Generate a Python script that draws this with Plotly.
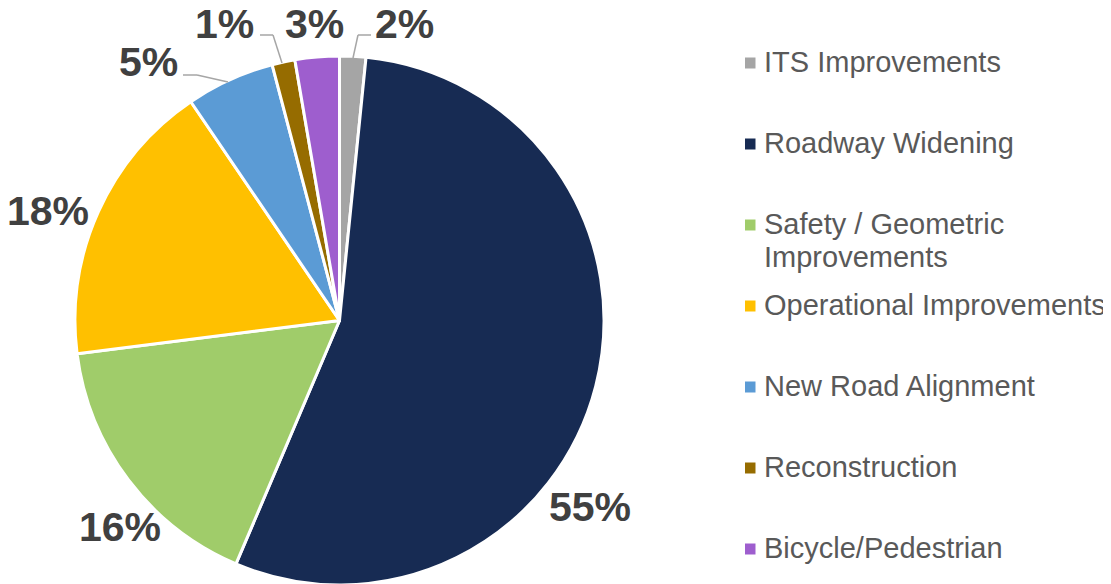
import plotly.graph_objects as go

# ---- data ----
categories = ["ITS Improvements", "Roadway Widening", "Safety / Geometric Improvements",
              "Operational Improvements", "New Road Alignment", "Reconstruction",
              "Bicycle/Pedestrian"]
values = [1.6, 54.8, 16.6, 17.5, 5.4, 1.4, 2.7]
pct_labels = ["2%", "55%", "16%", "18%", "5%", "1%", "3%"]
legend_lines = [["ITS Improvements"], ["Roadway Widening"],
                ["Safety / Geometric", "Improvements"], ["Operational Improvements"],
                ["New Road Alignment"], ["Reconstruction"], ["Bicycle/Pedestrian"]]

# ---- style ----
colors = ["#A5A5A5", "#172B53", "#A0CC6A", "#FFC000", "#5B9BD5", "#966C00", "#9E5ECE"]
OFF = 8  # page body margin
W, H = 1111, 584
FONT = "Liberation Sans, Arial, sans-serif"

def px(x):
    return (x - OFF) / W

def py(y):
    return 1 - (y - OFF) / H

# pie geometry (window pixels)
cx, cy, r = 339.5, 320.5, 264.5

fig = go.Figure(go.Pie(
    labels=categories, values=values, sort=False, direction="clockwise", rotation=0,
    marker=dict(colors=colors, line=dict(color="white", width=3)),
    textinfo="none", hoverinfo="label+percent", showlegend=False,
    domain=dict(x=[px(cx - r), px(cx + r)], y=[max(0, py(cy + r)), py(cy - r)]),
))

# percent labels (window pixels)
label_pos = [(404, 24), (590, 507), (120, 527), (48, 211), (148, 62), (224, 24), (314, 24)]
annotations = []
for txt, (x, y) in zip(pct_labels, label_pos):
    annotations.append(dict(x=px(x), y=py(y), xref="paper", yref="paper", text=txt,
                            showarrow=False, xanchor="center", yanchor="middle",
                            font=dict(family=FONT, size=41, color="#404040", weight="bold")))

# leader lines (window pixels)
leaders = [[(353, 58), (358, 35), (371, 35)],
           [(228, 82), (197, 75), (183, 75)],
           [(282, 63), (273, 35), (260, 35)]]
shapes = []
for pts in leaders:
    for (x0, y0), (x1, y1) in zip(pts[:-1], pts[1:]):
        shapes.append(dict(type="line", xref="paper", yref="paper",
                           x0=px(x0), y0=py(y0), x1=px(x1), y1=py(y1),
                           line=dict(color="#A6A6A6", width=1.5)))

# manual legend
leg_y0, leg_step, line_step = 62, 81, 33
for i, (lines, col) in enumerate(zip(legend_lines, colors)):
    yc = leg_y0 + i * leg_step
    shapes.append(dict(type="rect", xref="paper", yref="paper",
                       x0=px(745), x1=px(755.5), y0=py(yc - 5.5 + 1), y1=py(yc + 5.5 + 1),
                       fillcolor=col, line=dict(width=0)))
    for j, ln in enumerate(lines):
        annotations.append(dict(x=px(762), y=py(yc + j * line_step), xref="paper", yref="paper",
                                text=ln, showarrow=False, xanchor="left", yanchor="middle",
                                font=dict(family=FONT, size=29, color="#595959")))

fig.update_layout(
    width=W, height=H, margin=dict(l=0, r=0, t=0, b=0),
    paper_bgcolor="white", plot_bgcolor="white",
    annotations=annotations, shapes=shapes,
)

fig.write_html("out.html")
